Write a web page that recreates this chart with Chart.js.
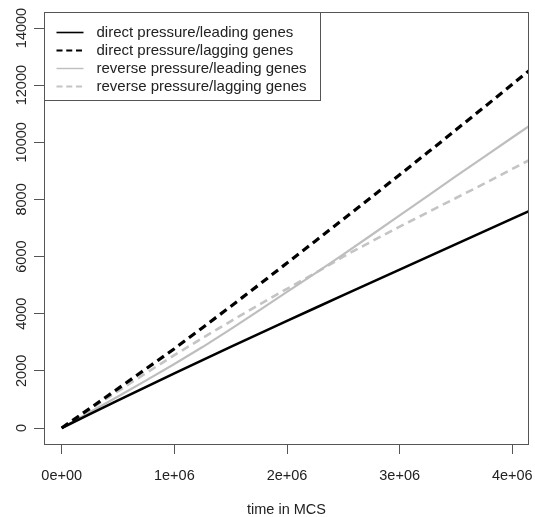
<!DOCTYPE html>
<html>
<head>
<meta charset="utf-8">
<script src="https://cdn.jsdelivr.net/npm/chart.js@4.4.1/dist/chart.umd.min.js"></script>
<style>
html,body{margin:0;padding:0;background:#ffffff;}
#wrap{width:535px;height:517px;}
</style>
</head>
<body>
<div id="wrap"><canvas id="c" width="535" height="517"></canvas></div>
<script>
// ---- data ----
const timeMCS = [0, 250000, 500000, 750000, 1000000, 1250000, 1500000, 1750000, 2000000,
                 2250000, 2500000, 2750000, 3000000, 3250000, 3500000, 3750000, 4000000, 4250000];
const directLeading  = [0, 485, 966, 1441, 1912, 2377, 2838, 3294, 3750, 4201, 4652, 5098, 5544, 5990, 6436, 6882, 7328, 7775];
const directLagging  = [0, 686, 1377, 2074, 2775, 3510, 4255, 5010, 5775, 6539, 7309, 8083, 8863, 9647, 10436, 11230, 12029, 12833];
const reverseLeading = [0, 549, 1103, 1667, 2240, 2833, 3461, 4108, 4765, 5412, 6078, 6755, 7441, 8127, 8814, 9490, 10167, 10843];
const reverseLagging = [0, 645, 1290, 1925, 2550, 3150, 3735, 4309, 4873, 5422, 6000, 6529, 7045, 7550, 8050, 8550, 9070, 9580];
const seriesNames = ['direct pressure/leading genes', 'direct pressure/lagging genes',
                     'reverse pressure/leading genes', 'reverse pressure/lagging genes'];
const xTickValues = [0, 1000000, 2000000, 3000000, 4000000];
const xTickLabels = ['0e+00', '1e+06', '2e+06', '3e+06', '4e+06'];
const yTickValues = [0, 2000, 4000, 6000, 8000, 10000, 12000, 14000];
const yTickLabels = ['0', '2000', '4000', '6000', '8000', '10000', '12000', '14000'];
const xTitle = 'time in MCS';

const FONT = 'Liberation Sans, Arial, Helvetica, sans-serif';
const TEXT = '#222222';
const AXIS = '#555555';

function pts(ys) { return timeMCS.map((x, i) => ({x: x, y: ys[i]})); }

const styles = [
  {color: '#000000', width: 2.6, dash: [], legendWidth: 1.6},
  {color: '#000000', width: 3.2, dash: [8, 5], legendWidth: 2.2},
  {color: '#bebebe', width: 2.2, dash: [], legendWidth: 1.4},
  {color: '#c4c4c4', width: 2.6, dash: [8, 5], legendWidth: 1.8}
];
const seriesValues = [directLeading, directLagging, reverseLeading, reverseLagging];

const datasets = seriesValues.map((vals, i) => ({
  label: seriesNames[i],
  data: pts(vals),
  borderColor: styles[i].color,
  borderWidth: styles[i].width,
  borderDash: styles[i].dash,
  legendWidth: styles[i].legendWidth,
  pointRadius: 0,
  fill: false,
  tension: 0,
  clip: 0
}));

const boxPlugin = {
  id: 'box',
  afterDatasetsDraw(chart) {
    const {ctx, chartArea: a} = chart;
    ctx.save();
    ctx.strokeStyle = AXIS;
    ctx.lineWidth = 1;
    ctx.setLineDash([]);
    ctx.strokeRect(a.left + 0.5, a.top + 0.5, a.right - a.left - 1, a.bottom - a.top);
    ctx.restore();
  }
};

const legendPlugin = {
  id: 'rlegend',
  afterDraw(chart) {
    const {ctx, chartArea: a} = chart;
    const left = a.left + 0.5, top = a.top + 0.5;
    const w = 276, h = 88;
    ctx.save();
    ctx.fillStyle = '#ffffff';
    ctx.fillRect(left, top, w, h);
    ctx.strokeStyle = AXIS;
    ctx.lineWidth = 1;
    ctx.setLineDash([]);
    ctx.strokeRect(left, top, w, h);
    ctx.font = '15px ' + FONT;
    ctx.textBaseline = 'middle';
    ctx.textAlign = 'left';
    chart.data.datasets.forEach((ds, i) => {
      const y = top + 20 + i * 18;
      ctx.beginPath();
      ctx.strokeStyle = ds.borderColor;
      ctx.lineWidth = ds.legendWidth;
      ctx.setLineDash(ds.borderDash.map(v => v * 0.75));
      ctx.moveTo(left + 12, y);
      ctx.lineTo(left + 39, y);
      ctx.stroke();
      ctx.setLineDash([]);
      ctx.fillStyle = TEXT;
      ctx.fillText(ds.label, left + 52, y + 0.5);
    });
    ctx.restore();
  }
};

new Chart(document.getElementById('c'), {
  type: 'line',
  data: {datasets: datasets},
  options: {
    responsive: false,
    animation: false,
    devicePixelRatio: 1,
    layout: {padding: {left: 0, right: 6, top: 12, bottom: 0}},
    plugins: {legend: {display: false}, tooltip: {enabled: false}, title: {display: false}},
    scales: {
      x: {
        type: 'linear',
        min: -157000,
        max: 4148000,
        afterBuildTicks: s => { s.ticks = xTickValues.map(v => ({value: v})); },
        afterFit: s => { s.height = 73; s.paddingLeft = 0; s.paddingRight = 0; },
        ticks: {
          callback: v => xTickLabels[xTickValues.indexOf(v)],
          font: {family: FONT, size: 14.5},
          color: TEXT,
          padding: 13,
          maxRotation: 0,
          minRotation: 0,
          autoSkip: false
        },
        grid: {drawOnChartArea: false, drawTicks: true, tickLength: 10, tickColor: AXIS, color: AXIS, lineWidth: 1},
        border: {display: false},
        title: {display: true, text: xTitle, color: TEXT, font: {family: FONT, size: 14.5, lineHeight: 1}, padding: {top: 0, bottom: 0}}
      },
      y: {
        type: 'linear',
        min: -560,
        max: 14560,
        afterBuildTicks: s => { s.ticks = yTickValues.map(v => ({value: v})); },
        afterFit: s => { s.width = 44; s.paddingTop = 0; s.paddingBottom = 0; },
        ticks: {
          callback: v => yTickLabels[yTickValues.indexOf(v)],
          font: {family: FONT, size: 14.5},
          color: TEXT,
          padding: -8,
          minRotation: 90,
          maxRotation: 90,
          crossAlign: 'center',
          autoSkip: false
        },
        grid: {drawOnChartArea: false, drawTicks: true, tickLength: 10, tickColor: AXIS, color: AXIS, lineWidth: 1},
        border: {display: false}
      }
    }
  },
  plugins: [boxPlugin, legendPlugin]
});
</script>
</body>
</html>
